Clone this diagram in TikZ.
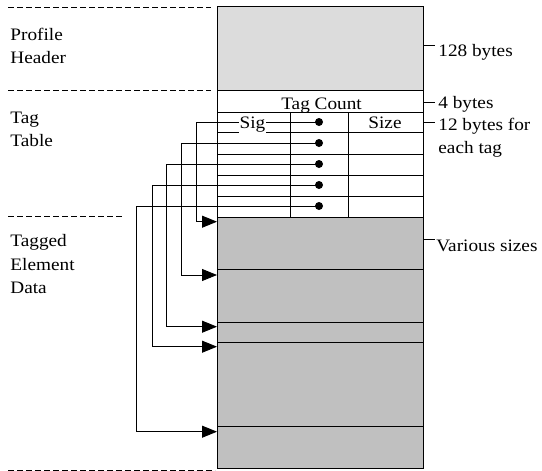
\documentclass[tikz,border=0pt]{standalone}
\usepackage{fontspec}
\setmainfont[FakeStretch=1.1]{Liberation Serif}
\usetikzlibrary{arrows.meta}
\definecolor{headfill}{RGB}{220,220,220}
\definecolor{datafill}{RGB}{192,192,192}
\begin{document}
\begin{tikzpicture}[x=1pt,y=-1pt,line width=0.9pt,
  txt/.style={anchor=base west,inner sep=0pt,font=\fontsize{17.5}{21}\selectfont},
  ctxt/.style={anchor=base,inner sep=0pt,font=\fontsize{17.5}{21}\selectfont},
  dashln/.style={dash pattern=on 6pt off 3pt},
  conn/.style={-{Triangle[length=15pt,width=12pt]}},
  dotn/.style={circle,fill=black,inner sep=0pt,minimum size=8pt}]
\useasboundingbox (0,0) rectangle (542,471);
% fills
\fill[headfill] (217,6) rectangle (423,90);
\fill[datafill] (217,217) rectangle (423,468);
% outline and rows
\draw (217,6) rectangle (423,468);
\foreach \yy in {90,112,132.5,154,175,196,217,269,322.3,342.7,426}
  \draw (217,\yy) -- (423,\yy);
\draw (290,112) -- (290,217);
\draw (348,112) -- (348,217);
% dashed separators
\draw[dashln] (8,7) -- (211,7);
\draw[dashln] (8,90) -- (211,90);
\draw[dashln] (8,216) -- (122,216);
\draw[dashln] (8,470) -- (215,470);
% dots, corners, targets
\foreach \i/\dy/\vx/\ty in {1/122/196/221.7,2/143/181/275,3/164/166.7/326.7,4/185/152.3/346.7,5/206/136.7/431.7}{
  \node[dotn] (d\i) at (319,\dy) {};
  \coordinate (c\i) at (\vx,\dy);
  \coordinate (t\i) at (217,\ty);
  \draw[conn] (d\i.center) -- (c\i) |- (t\i);
}
% table texts
\node[ctxt] (tc) at (321.5,109.3) {Tag Count};
\node[ctxt,fill=white,inner xsep=1pt,inner ysep=1pt] (sig) at (252.5,128.3) {Sig};
\node[ctxt] (size) at (385,128.3) {Size};
% left labels
\node[txt] (l1) at (10,40) {Profile};
\node[txt] (l2) at (10,63.3) {Header};
\node[txt] (l3) at (10,123) {Tag};
\node[txt] (l4) at (10,146) {Table};
\node[txt] (l5) at (10,246.7) {Tagged};
\node[txt] (l6) at (10,270) {Element};
\node[txt] (l7) at (10,293) {Data};
% right labels with ticks
\coordinate (k1) at (423,45);
\coordinate (k2) at (423,102);
\coordinate (k3) at (423,122);
\coordinate (k4) at (423,239);
\draw (k1) -- ++(12,0);
\draw (k2) -- ++(12,0);
\draw (k3) -- ++(12,0);
\draw (k4) -- ++(12,0);
\node[txt] (r1) at (438,56.7) {128 bytes};
\node[txt] (r2) at (438,108.5) {4 bytes};
\node[txt] (r3) at (438,130) {12 bytes for};
\node[txt] (r4) at (438,153) {each tag};
\node[txt] (r5) at (436,251.7) {Various sizes};
\end{tikzpicture}
\end{document}
